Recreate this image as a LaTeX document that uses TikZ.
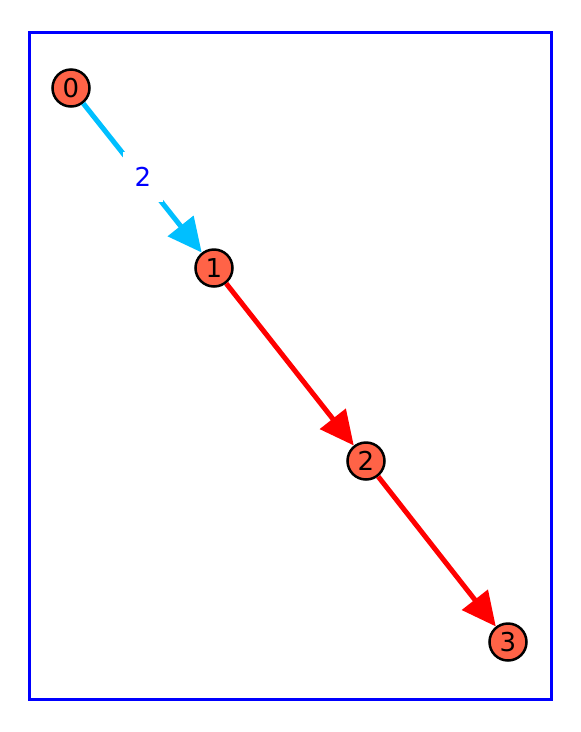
\documentclass[tikz,border=0pt]{standalone}
\usepackage{fontspec}
\setmainfont{DejaVu Sans}
\usetikzlibrary{arrows.meta}
\definecolor{tomatoc}{RGB}{255,99,71}
\definecolor{skyc}{RGB}{0,191,255}
\tikzset{
  vtx/.style={circle,draw=black,line width=2.5pt,fill=tomatoc,minimum size=37pt,inner sep=0pt,font=\fontsize{26}{28}\selectfont},
  edgeb/.style={draw=skyc,line width=5pt,-{Triangle[length=34pt,width=32pt]}},
  edger/.style={draw=red,line width=5pt,-{Triangle[length=34pt,width=32pt]}},
  elabel/.style={fill=white,text=blue,minimum width=40pt,minimum height=50pt,inner sep=0pt,font=\fontsize{26}{28}\selectfont}
}
\begin{document}
\begin{tikzpicture}[x=1pt,y=-1pt]
\useasboundingbox (0,0) rectangle (581,732);
\draw[blue,line width=3pt] (29,32) rectangle (551,699);
\node[vtx] (n0) at (71,88) {0};
\node[vtx] (n1) at (214,268) {1};
\node[vtx] (n2) at (366,461) {2};
\node[vtx] (n3) at (508,642) {3};
\draw[edgeb] (n0) -- (n1);
\draw[edger] (n1) -- (n2);
\draw[edger] (n2) -- (n3);
\node[elabel] (l01) at (143,177) {2};
\end{tikzpicture}
\end{document}
